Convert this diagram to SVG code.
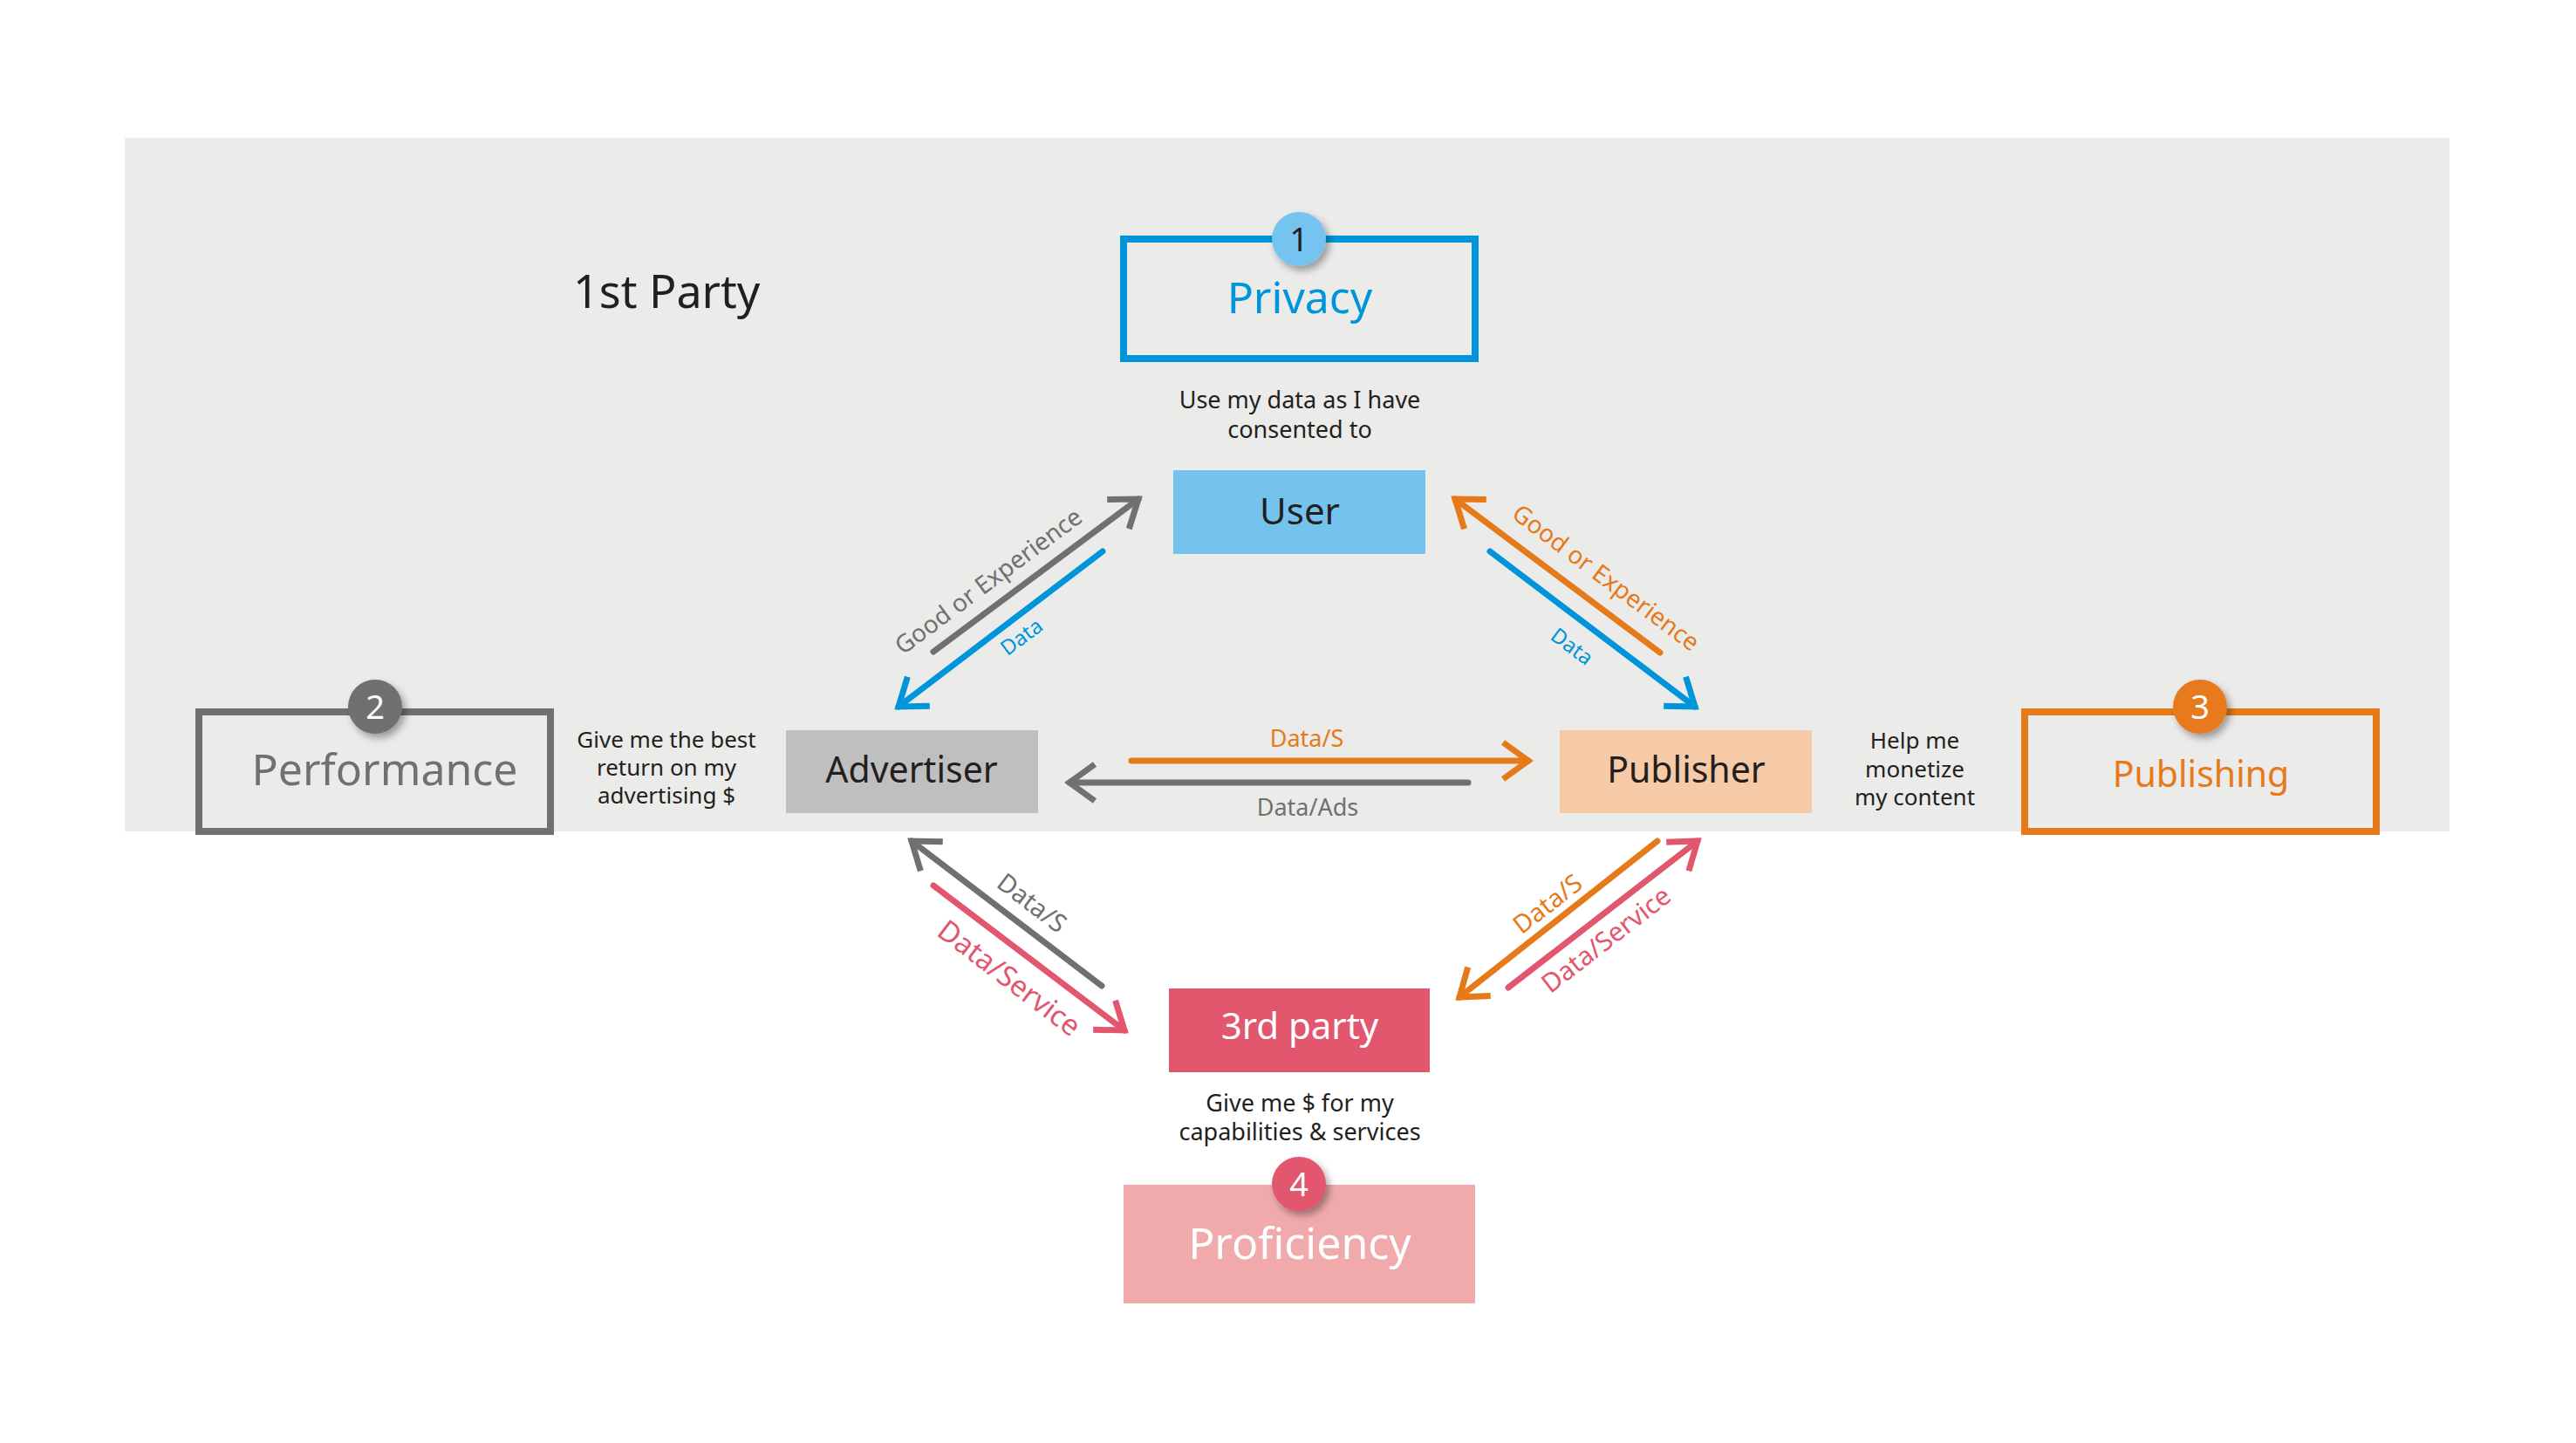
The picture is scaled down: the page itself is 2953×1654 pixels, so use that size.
<svg xmlns="http://www.w3.org/2000/svg" width="2953" height="1654" viewBox="0 0 2953 1654">
<style>
text{font-family:"Noto Sans","Liberation Sans",sans-serif;}
.dark{fill:#231F20;}
.c{text-anchor:middle;}
.ln{fill:none;stroke-width:7;stroke-linecap:round;}
.num{font-size:38px;text-anchor:middle;}
</style>
<defs>
<filter id="sh" x="-50%" y="-50%" width="200%" height="200%">
<feDropShadow dx="4" dy="5" stdDeviation="4" flood-color="#000" flood-opacity="0.35"/>
</filter>
<marker id="mGray" markerUnits="userSpaceOnUse" viewBox="-40 -30 50 60" markerWidth="50" markerHeight="60" refX="0" refY="0" orient="auto"><path d="M-29,-21 L0,0 L-29,21" fill="none" stroke="#717070" stroke-width="7"/></marker>
<marker id="mBlue" markerUnits="userSpaceOnUse" viewBox="-40 -30 50 60" markerWidth="50" markerHeight="60" refX="0" refY="0" orient="auto"><path d="M-29,-21 L0,0 L-29,21" fill="none" stroke="#0095DA" stroke-width="7"/></marker>
<marker id="mOrange" markerUnits="userSpaceOnUse" viewBox="-40 -30 50 60" markerWidth="50" markerHeight="60" refX="0" refY="0" orient="auto"><path d="M-29,-21 L0,0 L-29,21" fill="none" stroke="#E67A1A" stroke-width="7"/></marker>
<marker id="mPink" markerUnits="userSpaceOnUse" viewBox="-40 -30 50 60" markerWidth="50" markerHeight="60" refX="0" refY="0" orient="auto"><path d="M-29,-21 L0,0 L-29,21" fill="none" stroke="#E2566E" stroke-width="7"/></marker>
</defs>
<rect width="2953" height="1654" fill="#FFFFFF"/>
<rect id="first-party-area" x="143" y="158" width="2665" height="795" fill="#EBEBEA"/>
<text x="657" y="353" font-size="52" class="dark">1st Party</text>

<g id="privacy">
<rect x="1288" y="274" width="403" height="137" fill="none" stroke="#0095DA" stroke-width="8"/>
<text x="1490" y="359" font-size="50" class="c" fill="#0095DA">Privacy</text>
<circle cx="1489" cy="274" r="31" fill="#74C3EF" filter="url(#sh)"/>
<text x="1489" y="288" class="num dark">1</text>
</g>
<text class="c dark" font-size="27" x="1490" y="468">Use my data as I have</text>
<text class="c dark" font-size="27" x="1490" y="502">consented to</text>

<g id="user">
<rect x="1345" y="539" width="289" height="96" fill="#74C3EF"/>
<text x="1490" y="601" font-size="42" class="c dark">User</text>
</g>

<g id="performance">
<rect x="228" y="816" width="403" height="137" fill="none" stroke="#717070" stroke-width="8"/>
<text x="441" y="900" font-size="50" class="c" fill="#717070">Performance</text>
<circle cx="430" cy="810" r="31" fill="#717070" filter="url(#sh)"/>
<text x="430" y="824" class="num" fill="#FFFFFF">2</text>
</g>
<text class="c dark" font-size="26" x="764" y="857">Give me the best</text>
<text class="c dark" font-size="26" x="764" y="889">return on my</text>
<text class="c dark" font-size="26" x="764" y="921">advertising $</text>

<g id="advertiser">
<rect x="901" y="837" width="289" height="95" fill="#BFBFBF"/>
<text x="1045" y="897" font-size="41" class="c dark">Advertiser</text>
</g>

<g id="publisher">
<rect x="1788" y="837" width="289" height="95" fill="#F6CAA7"/>
<text x="1933" y="897" font-size="41" class="c dark">Publisher</text>
</g>
<text class="c dark" font-size="26" x="2195" y="858">Help me</text>
<text class="c dark" font-size="26" x="2195" y="891">monetize</text>
<text class="c dark" font-size="26" x="2195" y="923">my content</text>

<g id="publishing">
<rect x="2321" y="816" width="403" height="137" fill="none" stroke="#E67A1A" stroke-width="8"/>
<text x="2523" y="902" font-size="41" class="c" fill="#E67A1A">Publishing</text>
<circle cx="2522" cy="810" r="31" fill="#E67A1A" filter="url(#sh)"/>
<text x="2522" y="824" class="num" fill="#FFFFFF">3</text>
</g>

<g id="third-party">
<rect x="1340" y="1133" width="299" height="96" fill="#E2566E"/>
<text x="1490" y="1191" font-size="42" class="c" fill="#FFFFFF">3rd party</text>
</g>
<text class="c dark" font-size="27" x="1490" y="1274">Give me $ for my</text>
<text class="c dark" font-size="27" x="1490" y="1307">capabilities &amp; services</text>

<g id="proficiency">
<rect x="1288" y="1358" width="403" height="136" fill="#F0AAAC"/>
<text x="1490" y="1443" font-size="50" class="c" fill="#FFFFFF">Proficiency</text>
<circle cx="1489" cy="1357" r="31" fill="#E2566E" filter="url(#sh)"/>
<text x="1489" y="1371" class="num" fill="#FFFFFF">4</text>
</g>

<g id="connectors">
<line class="ln" x1="1070" y1="747" x2="1305" y2="572" stroke="#717070" marker-end="url(#mGray)"/>
<line class="ln" x1="1264" y1="632" x2="1030" y2="810" stroke="#0095DA" marker-end="url(#mBlue)"/>
<line class="ln" x1="1903" y1="748" x2="1668" y2="572" stroke="#E67A1A" marker-end="url(#mOrange)"/>
<line class="ln" x1="1708" y1="632" x2="1943" y2="810" stroke="#0095DA" marker-end="url(#mBlue)"/>
<line class="ln" x1="1297" y1="872" x2="1752" y2="872" stroke="#E67A1A" marker-end="url(#mOrange)"/>
<line class="ln" x1="1683" y1="897" x2="1226" y2="897" stroke="#717070" marker-end="url(#mGray)"/>
<line class="ln" x1="1263" y1="1130" x2="1045" y2="964" stroke="#717070" marker-end="url(#mGray)"/>
<line class="ln" x1="1070" y1="1015" x2="1289" y2="1181" stroke="#E2566E" marker-end="url(#mPink)"/>
<line class="ln" x1="1900" y1="964" x2="1673" y2="1143" stroke="#E67A1A" marker-end="url(#mOrange)"/>
<line class="ln" x1="1729" y1="1132" x2="1946" y2="964" stroke="#E2566E" marker-end="url(#mPink)"/>

<text class="c" font-size="28" fill="#717070" transform="translate(1133,666) rotate(-36.7)" dy="0.35em">Good or Experience</text>
<text class="c" font-size="24" fill="#0095DA" transform="translate(1171,730) rotate(-36.7)" dy="0.35em">Data</text>
<text class="c" font-size="28" fill="#E67A1A" transform="translate(1841,662) rotate(36.8)" dy="0.35em">Good or Experience</text>
<text class="c" font-size="24" fill="#0095DA" transform="translate(1802,741) rotate(36.8)" dy="0.35em">Data</text>
<text class="c" font-size="27" fill="#E67A1A" x="1498" y="856">Data/S</text>
<text class="c" font-size="27" fill="#717070" x="1499" y="935">Data/Ads</text>
<text class="c" font-size="29" fill="#717070" transform="translate(1183,1035) rotate(37.3)" dy="0.35em">Data/S</text>
<text class="c" font-size="33" fill="#E2566E" transform="translate(1157,1121) rotate(37.3)" dy="0.35em">Data/Service</text>
<text class="c" font-size="29" fill="#E67A1A" transform="translate(1774,1036) rotate(-37.7)" dy="0.35em">Data/S</text>
<text class="c" font-size="30" fill="#E2566E" transform="translate(1841,1077) rotate(-37.7)" dy="0.35em">Data/Service</text>
</g>
</svg>
